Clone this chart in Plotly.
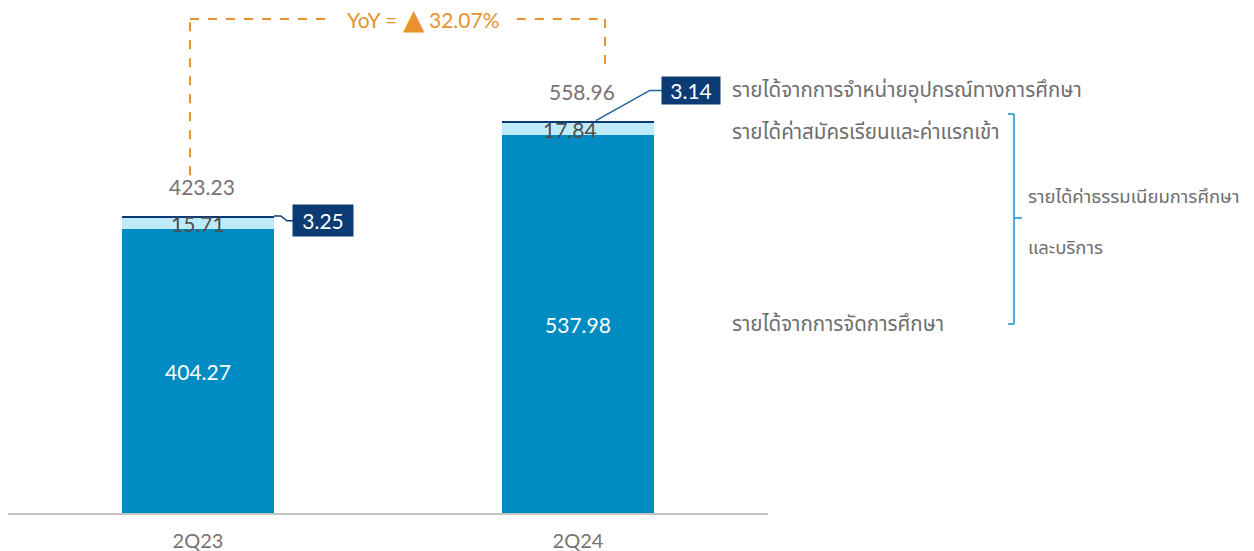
import plotly.graph_objects as go

# ── data ──
categories = ['2Q23', '2Q24']
mgmt_rev = [404.27, 537.98]      # รายได้จากการจัดการศึกษา
fee_rev = [15.71, 17.84]         # รายได้ค่าสมัครเรียนและค่าแรกเข้า
equip_rev = [3.25, 3.14]         # รายได้จากการจำหน่ายอุปกรณ์ทางการศึกษา
series_names = ['รายได้จากการจัดการศึกษา',
                'รายได้ค่าสมัครเรียนและค่าแรกเข้า',
                'รายได้จากการจำหน่ายอุปกรณ์ทางการศึกษา']
group_label = ['รายได้ค่าธรรมเนียมการศึกษา', 'และบริการ']

totals = [round(a + b + c, 2) for a, b, c in zip(mgmt_rev, fee_rev, equip_rev)]
yoy = (totals[1] / totals[0] - 1) * 100

C_BASE = '#008cc2'
C_LIGHT = '#bdebfb'
C_NAVY = '#0b3b74'
C_ORANGE = '#e8922e'
C_GRAY = '#7b7171'
C_TEXT = '#6e6e6e'
C_BRACKET = '#1b8ed3'
FONT = 'Lato, "Noto Sans Thai", "Noto Sans", sans-serif'
NUM = 21

xs = [0, 1]
W = 0.4

fig = go.Figure()
fig.add_trace(go.Bar(
    x=xs, y=mgmt_rev, width=W, marker=dict(color=C_BASE, line=dict(width=0)),
    text=[f'{v:.2f}' for v in mgmt_rev], textposition='inside',
    insidetextanchor='middle', textfont=dict(color='white', size=NUM, family=FONT),
    name=series_names[0]))
fig.add_trace(go.Bar(
    x=xs, y=fee_rev, width=W, marker=dict(color=C_LIGHT, line=dict(width=0)),
    name=series_names[1]))
fig.add_trace(go.Bar(
    x=xs, y=equip_rev, width=W, marker=dict(color=C_NAVY, line=dict(width=0)),
    name=series_names[2]))

ann = []
shapes = []

for i, x in enumerate(xs):
    # segment label for fees
    ann.append(dict(x=x - (0.02 if i else 0), y=mgmt_rev[i] + fee_rev[i] / 2,
                    text=f'{fee_rev[i]:.2f}', showarrow=False,
                    font=dict(size=NUM, color='#4d4d4d', family=FONT)))
    # total
    ann.append(dict(x=x + 0.01, y=totals[i], yshift=29, text=f'{totals[i]:.2f}',
                    showarrow=False, font=dict(size=NUM, color=C_GRAY, family=FONT)))

# callout boxes for equipment revenue
ann.append(dict(x=0.329, y=totals[0] - 7, text=f'{equip_rev[0]:.2f}', showarrow=False,
                bgcolor=C_NAVY, width=54, height=25, borderpad=3,
                font=dict(size=NUM, color='white', family=FONT)))
ann.append(dict(x=1.297, y=totals[1] + 43, text=f'{equip_rev[1]:.2f}', showarrow=False,
                bgcolor=C_NAVY, width=52, height=21, borderpad=3,
                font=dict(size=NUM, color='white', family=FONT)))
shapes.append(dict(type='path', xref='x', yref='y',
                   path=f'M 0.2 {totals[0]} L 0.218 {totals[0]} L 0.234 {totals[0]-7} L 0.25 {totals[0]-7}',
                   line=dict(color=C_NAVY, width=1.5)))
shapes.append(dict(type='path', xref='x', yref='y',
                   path=f'M 1.047 {totals[1]} L 1.189 {totals[1]+43} L 1.221 {totals[1]+43}',
                   line=dict(color='#1f5f9a', width=1.5)))

# YoY dashed connector
y_top = 703.7
dash = dict(color=C_ORANGE, width=2, dash='dash')
shapes += [
    dict(type='line', xref='x', yref='y', x0=-0.021, x1=-0.021, y0=totals[0] + 58, y1=y_top, line=dash),
    dict(type='line', xref='x', yref='y', x0=-0.021, x1=0.347, y0=y_top, y1=y_top, line=dash),
    dict(type='line', xref='x', yref='y', x0=0.839, x1=1.071, y0=y_top, y1=y_top, line=dash),
    dict(type='line', xref='x', yref='y', x0=1.071, x1=1.071, y0=y_top, y1=totals[1] + 72, line=dash),
]
ann.append(dict(x=0.528, y=y_top, xanchor='right', showarrow=False, text='YoY =',
                font=dict(size=NUM, color=C_ORANGE, family=FONT)))
ann.append(dict(x=0.568, y=y_top, showarrow=False, text='▲', height=30,
                font=dict(size=28, color=C_ORANGE, family='DejaVu Sans')))
ann.append(dict(x=0.603, y=y_top, xanchor='left', showarrow=False, text=f'{yoy:.2f}%',
                font=dict(size=NUM, color=C_ORANGE, family=FONT)))

# right-side series labels
for name, yv in [(series_names[2], totals[1] + 43),
                 (series_names[1], mgmt_rev[1] + fee_rev[1] / 2 - 3),
                 (series_names[0], mgmt_rev[1] / 2 + 2)]:
    ann.append(dict(x=0.95, xref='paper', y=yv, yref='y', xanchor='left', showarrow=False,
                    text=name, font=dict(size=20.5, color=C_TEXT, family=FONT)))

# plot area spans px 8..768 horizontally, 0..513 vertically
def px(xp):
    return (xp - 8) / 760

def py(yp):
    return (513 - yp) / 513

br = dict(color=C_BRACKET, width=1.5)
shapes += [
    dict(type='line', xref='paper', yref='paper', x0=px(1014), x1=px(1014), y0=py(114), y1=py(324), line=br),
    dict(type='line', xref='paper', yref='paper', x0=px(1008), x1=px(1014), y0=py(114), y1=py(114), line=br),
    dict(type='line', xref='paper', yref='paper', x0=px(1008), x1=px(1014), y0=py(324), y1=py(324), line=br),
    dict(type='line', xref='paper', yref='paper', x0=px(1014), x1=px(1022), y0=py(218), y1=py(218), line=br),
]
ann.append(dict(x=px(1026), xref='paper', y=py(196), yref='paper', xanchor='left', showarrow=False,
                text=group_label[0], font=dict(size=18.5, color=C_TEXT, family=FONT)))
ann.append(dict(x=px(1026), xref='paper', y=py(247), yref='paper', xanchor='left', showarrow=False,
                text=group_label[1], font=dict(size=18.5, color=C_TEXT, family=FONT)))

fig.update_layout(
    barmode='stack',
    width=1254, height=551,
    margin=dict(l=8, r=486, t=0, b=38),
    paper_bgcolor='white', plot_bgcolor='white',
    showlegend=False,
    annotations=ann, shapes=shapes,
    xaxis=dict(range=[-0.5, 1.5], tickvals=xs, ticktext=categories, showgrid=False,
               zeroline=False, showline=True, linecolor='#c4c4c4', linewidth=2,
               ticks='', ticklabelstandoff=9,
               tickfont=dict(size=20, color=C_GRAY, family=FONT)),
    yaxis=dict(range=[0, 730.8], visible=False, showgrid=False, zeroline=False),
)

fig.write_html('out.html', config={'displayModeBar': False},
               post_script="document.body.style.margin='0';document.body.style.overflow='hidden';")
